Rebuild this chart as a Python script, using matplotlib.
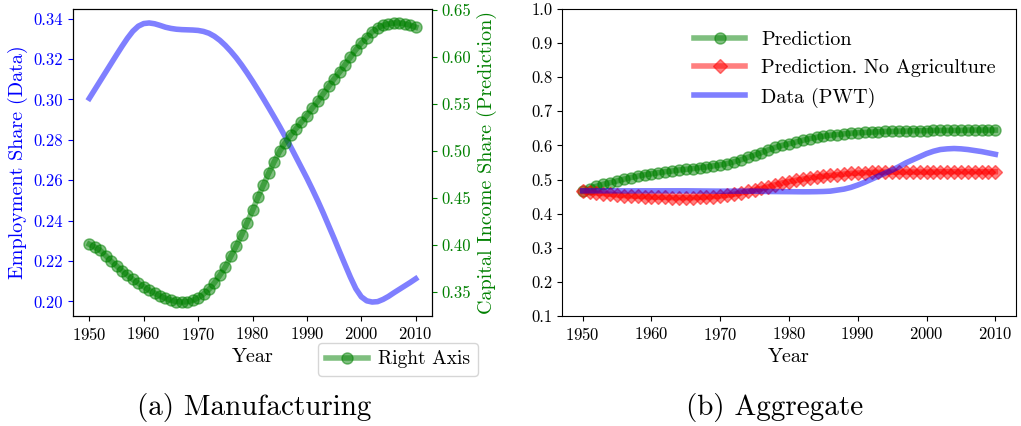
import numpy as np
import matplotlib
matplotlib.use("Agg")
import matplotlib.pyplot as plt

plt.rcParams['font.family'] = 'serif'
plt.rcParams['font.serif'] = ['cmr10']
plt.rcParams['mathtext.fontset'] = 'cm'
plt.rcParams['axes.formatter.use_mathtext'] = True

years = list(range(1950, 2011))

# Panel (a) Manufacturing
mfg_employment_share = [
    .3005, .3048, .3091, .3134, .3177, .3220, .3262, .3302, .3337, .3362,
    .3375, .3378, .3374, .3366, .3357, .3351, .3347, .3345, .3344, .3343,
    .3341, .3336, .3327, .3312, .3292, .3267, .3238, .3206, .3170, .3131,
    .3090, .3047, .3003, .2958, .2912, .2865, .2816, .2766, .2714, .2662,
    .2610, .2555, .2498, .2438, .2375, .2312, .2247, .2183, .2120, .2063,
    .2023, .2003, .1997, .1999, .2010, .2025, .2043, .2060, .2077, .2094,
    .2112]
mfg_capital_share_pred = [
    .401, .398, .3945, .389, .383, .378, .373, .368, .3635, .3595,
    .356, .352, .349, .346, .3435, .3415, .340, .3395, .3398, .3412,
    .344, .348, .353, .360, .368, .377, .388, .399, .411, .424,
    .437, .451, .464, .477, .489, .500, .509, .517, .524, .531,
    .538, .546, .553, .561, .569, .577, .584, .592, .600, .608,
    .615, .621, .627, .631, .634, .6355, .6365, .6365, .6355, .634,
    .632]

# Panel (b) Aggregate
agg_prediction = [
    .466, .473, .480, .486, .491, .496, .501, .506, .510, .514,
    .517, .520, .523, .525, .528, .530, .532, .535, .537, .540,
    .543, .547, .552, .558, .565, .572, .579, .587, .594, .600,
    .605, .610, .615, .620, .624, .627, .630, .632, .634, .636,
    .637, .638, .639, .640, .641, .641, .642, .642, .643, .643,
    .643, .644, .644, .644, .644, .644, .645, .645, .645, .645,
    .645]
agg_pred_no_agri = [
    .466, .464, .461, .459, .457, .455, .453, .452, .451, .450,
    .449, .448, .448, .447, .447, .447, .447, .448, .449, .450,
    .452, .454, .457, .461, .465, .469, .474, .479, .485, .490,
    .494, .498, .501, .505, .508, .510, .512, .514, .516, .518,
    .519, .520, .521, .521, .522, .522, .522, .522, .522, .522,
    .522, .522, .523, .523, .523, .523, .523, .523, .523, .523,
    .523]
agg_data_pwt = [
    .467, .467, .467, .467, .467, .467, .467, .467, .467, .467,
    .467, .467, .467, .467, .467, .467, .4668, .4666, .4664, .4662,
    .466, .466, .466, .466, .466, .466, .4655, .465, .4648, .4646,
    .4645, .4643, .4641, .4642, .4645, .465, .466, .469, .472, .477,
    .484, .492, .501, .510, .519, .528, .538, .549, .558, .567,
    .576, .583, .588, .590, .591, .590, .588, .585, .582, .578,
    .574]

xticks = [1950, 1960, 1970, 1980, 1990, 2000, 2010]

fig = plt.figure(figsize=(10.21, 4.26), dpi=100)

W, H = 1021, 426
def rect(l, r, t, b):
    return [l / W, 1 - b / H, (r - l) / W, (b - t) / H]

ax1 = fig.add_axes(rect(73, 432, 9, 316))
ax1.plot(years, mfg_employment_share, color='blue', alpha=0.5, lw=4)
ax1.set_ylabel('Employment Share (Data)', color='blue', fontsize=14.5)
ax1.tick_params(axis='y', colors='blue', labelsize=12)
ax1.tick_params(axis='x', labelsize=12)
ax1.set_yticks([0.20, 0.22, 0.24, 0.26, 0.28, 0.30, 0.32, 0.34])
ax1.set_xticks(xticks)
ax1.set_xlabel('Year', fontsize=14.5)
ax1.yaxis.set_major_formatter(matplotlib.ticker.FormatStrFormatter('%.2f'))

ax2 = ax1.twinx()
ax2.plot(years, mfg_capital_share_pred, color='green', alpha=0.5, lw=4,
         marker='o', markersize=8, label='Right Axis')
ax2.set_ylabel('Capital Income Share (Prediction)', color='green', fontsize=14.5)
ax2.tick_params(axis='y', colors='green', labelsize=12)
ax2.set_yticks([0.35, 0.40, 0.45, 0.50, 0.55, 0.60, 0.65])
ax2.yaxis.set_major_formatter(matplotlib.ticker.FormatStrFormatter('%.2f'))
for s in ax2.spines.values():
    s.set_color('black')
ax2.legend(loc='upper left', bbox_to_anchor=(308 / W, 1 - 333 / H),
           bbox_transform=fig.transFigure, fontsize=14, handlelength=2.2,
           handletextpad=0.5)

ax3 = fig.add_axes(rect(562, 1016, 9, 316))
ax3.plot(years, agg_prediction, color='green', alpha=0.5, lw=4, marker='o',
         markersize=8, label='Prediction')
ax3.plot(years, agg_pred_no_agri, color='red', alpha=0.5, lw=4, marker='D',
         markersize=7, label='Prediction. No Agriculture')
ax3.plot(years, agg_data_pwt, color='blue', alpha=0.5, lw=4, label='Data (PWT)')
ax3.set_ylim(0.1, 1.0)
ax3.set_yticks(np.arange(0.1, 1.01, 0.1))
ax3.yaxis.set_major_formatter(matplotlib.ticker.FormatStrFormatter('%.1f'))
ax3.set_xticks(xticks)
ax3.tick_params(labelsize=12)
ax3.set_xlabel('Year', fontsize=14.5)
ax3.legend(loc='upper center', bbox_to_anchor=(0.5 + 56 / 454, 1 - 4 / 307),
           frameon=False, fontsize=14.5, handlelength=2.5)

fig.text(254 / W, 1 - 407 / H, '(a) Manufacturing', ha='center', va='center', fontsize=21)
fig.text(775 / W, 1 - 407 / H, '(b) Aggregate', ha='center', va='center', fontsize=21)

fig.savefig('out.png', dpi=100)
